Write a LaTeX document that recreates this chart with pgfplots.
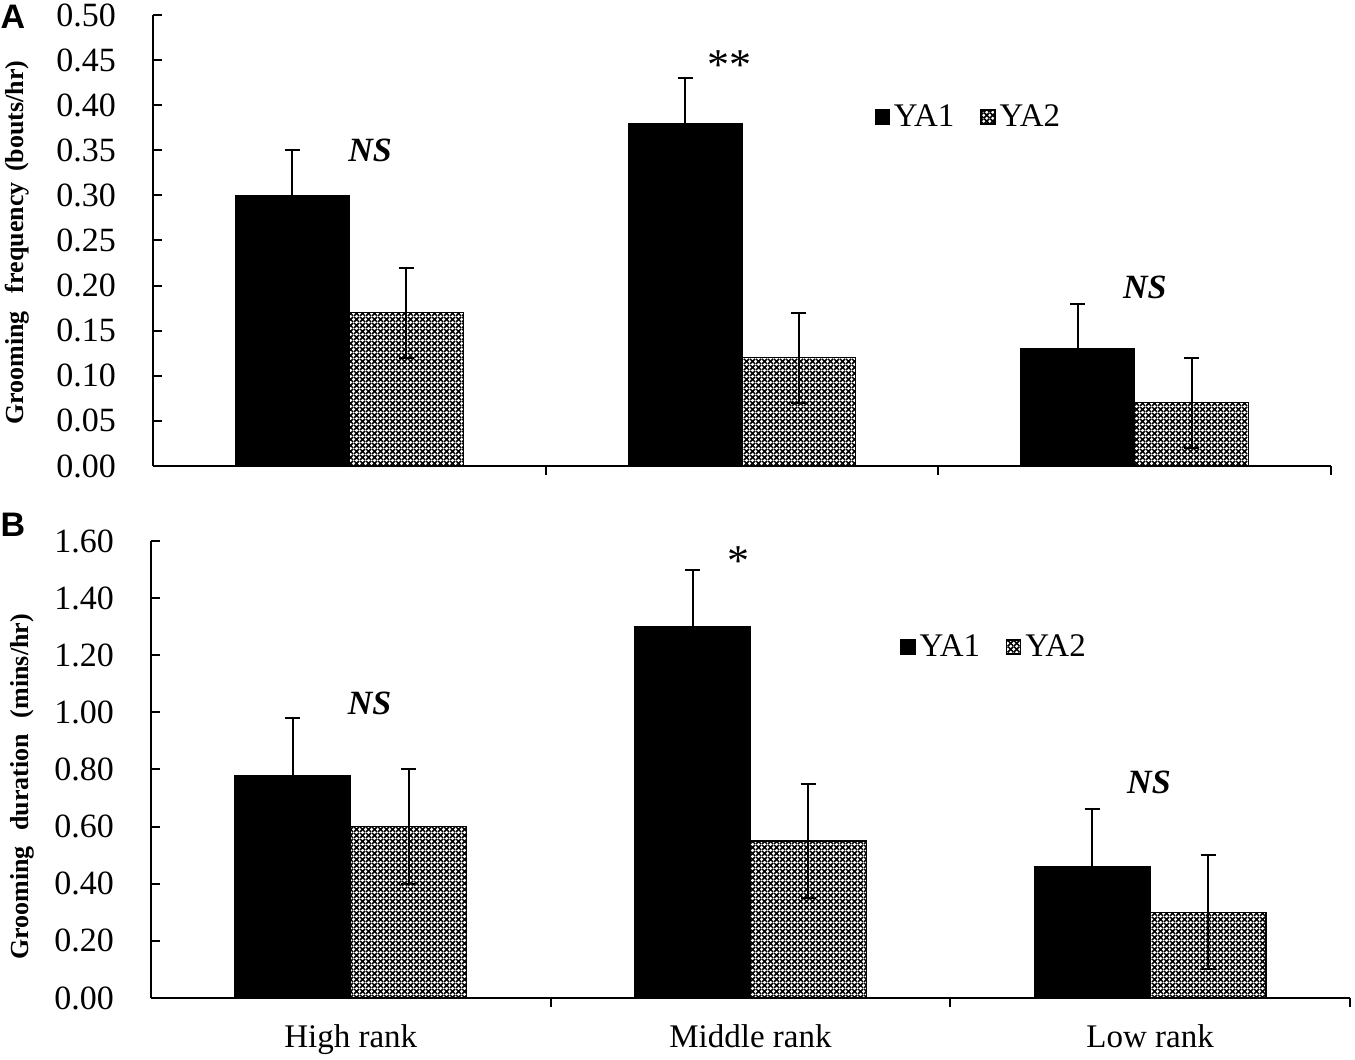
\documentclass[border=0pt]{standalone}
\usepackage{pgfplots}
\pgfplotsset{compat=1.18}
\usepackage{fontspec}
\setmainfont{Liberation Serif}
\newfontfamily\sansf{Liberation Sans}
\usetikzlibrary{patterns.meta}
\pgfdeclarepattern{
  name=mycross,
  type=uncolored,
  bottom left={\pgfpoint{0pt}{0pt}},
  top right={\pgfpoint{3pt}{3pt}},
  tile size={\pgfpoint{3pt}{3pt}},
  code={
    \pgfsetlinewidth{0.85pt}
    \pgfpathmoveto{\pgfpoint{0pt}{0pt}}
    \pgfpathlineto{\pgfpoint{3pt}{3pt}}
    \pgfpathmoveto{\pgfpoint{0pt}{3pt}}
    \pgfpathlineto{\pgfpoint{3pt}{0pt}}
    \pgfusepath{stroke}
  }
}
\pgfplotsset{
  myaxis/.style={
    scale only axis,
    xmin=-0.5, xmax=2.5,
    ymin=0,
    axis x line=bottom, axis y line=left,
    axis line style={-, line width=1pt, black},
    tick align=inside,
    major tick length=4.5pt,
    tick style={line width=1pt, black},
    xtick={0.5,1.5,2.5},
    xticklabels={},
    ybar,
    bar width=0.29,
    /pgf/number format/assume math mode=true,
    yticklabel style={font=\fontsize{17}{19}\selectfont, xshift=-15pt,
      /pgf/number format/.cd, fixed, fixed zerofill, precision=2},
    legend columns=2,
    legend cell align=left,
    legend style={draw=none, fill=none, anchor=center,
      font=\fontsize{16.5}{18}\selectfont,
      /tikz/every even column/.append style={column sep=11pt}},
  },
  ya1/.style={bar shift=-0.145, fill=black, draw=black, line width=0.6pt,
    legend image code/.code={\draw[fill=black,draw=black,line width=0.6pt] (0pt,-3.5pt) rectangle (7pt,3.5pt);},
    error bars/.cd, y dir=both, y explicit,
    error bar style={line width=1pt, black},
    error mark options={rotate=90, mark size=3.75pt, line width=1pt, black}},
  ya2/.style={bar shift=0.145, pattern=mycross, pattern color=black, draw=black, line width=0.6pt,
    legend image code/.code={\draw[pattern=mycross,pattern color=black,draw=black,line width=0.6pt] (0pt,-3.5pt) rectangle (7pt,3.5pt);},
    error bars/.cd, y dir=both, y explicit,
    error bar style={line width=1pt, black},
    error mark options={rotate=90, mark size=3.75pt, line width=1pt, black}},
}
\begin{document}
\begin{tikzpicture}
\useasboundingbox (0,0) rectangle (677.5pt,530pt);
% Panel A
\begin{axis}[myaxis,
  at={(76.5pt,297pt)}, anchor=south west,
  width=589pt, height=225.5pt,
  ymax=0.5, ytick distance=0.05,
  ylabel={\fontsize{13}{14}\selectfont\bfseries Grooming\hspace{0.7em}frequency\hspace{0.4em}(bouts/hr)},
  ylabel style={at={(axis description cs:-0.1155,0.495)}, anchor=center},
  legend style={at={(axis description cs:0.693,0.774)}},
]
\addplot[ya1]
  coordinates {(0,0.30) +- (0,0.05) (1,0.38) +- (0,0.05) (2,0.13) +- (0,0.05)};
\addlegendentry{YA1}
\addplot[ya2]
  coordinates {(0,0.17) +- (0,0.05) (1,0.12) +- (0,0.05) (2,0.07) +- (0,0.05)};
\addlegendentry{YA2}
\node[font=\fontsize{17}{19}\selectfont\bfseries\itshape] at (axis cs:0.053,0.35) {NS};
\node[font=\fontsize{22}{24}\selectfont] at (axis cs:0.967,0.445) {**};
\node[font=\fontsize{17}{19}\selectfont\bfseries\itshape] at (axis cs:2.026,0.198) {NS};
\end{axis}
% Panel B
\begin{axis}[myaxis,
  at={(75.5pt,31pt)}, anchor=south west,
  width=599.5pt, height=228.5pt,
  ymax=1.6, ytick distance=0.2,
  extra x ticks={0,1,2},
  extra x tick labels={High rank, Middle rank, Low rank},
  extra x tick style={major tick length=0pt, tick style={draw=none},
    xticklabel style={font=\fontsize{16.5}{18}\selectfont, yshift=-10pt}},
  ylabel={\fontsize{13}{14}\selectfont\bfseries Grooming\hspace{0.6em}duration\hspace{0.6em}(mins/hr)},
  ylabel style={at={(axis description cs:-0.1076,0.462)}, anchor=center},
  legend style={at={(axis description cs:0.704,0.768)}},
]
\addplot[ya1]
  coordinates {(0,0.78) +- (0,0.20) (1,1.30) +- (0,0.20) (2,0.46) +- (0,0.20)};
\addlegendentry{YA1}
\addplot[ya2]
  coordinates {(0,0.60) +- (0,0.20) (1,0.55) +- (0,0.20) (2,0.30) +- (0,0.20)};
\addlegendentry{YA2}
\node[font=\fontsize{17}{19}\selectfont\bfseries\itshape] at (axis cs:0.047,1.03) {NS};
\node[font=\fontsize{22}{24}\selectfont] at (axis cs:0.97,1.53) {*};
\node[font=\fontsize{17}{19}\selectfont\bfseries\itshape] at (axis cs:1.997,0.756) {NS};
\end{axis}
\node[font=\sansf\bfseries\fontsize{17}{19}\selectfont] at (6.5pt,521.5pt) {A};
\node[font=\sansf\bfseries\fontsize{17}{19}\selectfont] at (6.5pt,267.5pt) {B};
\end{tikzpicture}
\end{document}
